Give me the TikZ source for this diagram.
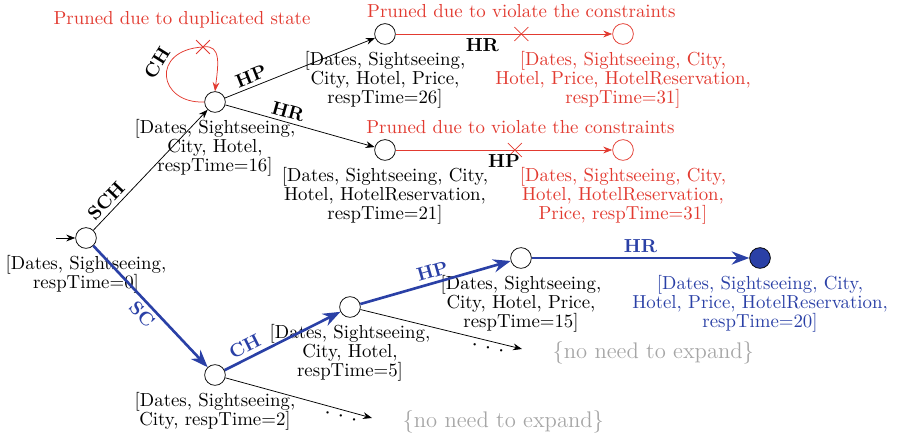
\documentclass[tikz,border=0pt]{standalone}
\usepackage{tikz}
\usetikzlibrary{
  positioning,
  arrows.meta,
  shapes.misc
}
\definecolor{prunered}{RGB}{226,58,48}
\definecolor{planblue}{RGB}{42,64,166}

\begin{document}
\begin{tikzpicture}[>=Stealth, x=0.531pt, y=0.531pt]
  \tikzset{
    state/.style={circle, draw, minimum size=11pt, inner sep=0pt},
    info/.style={align=center, inner sep=1pt, font=\fontsize{10}{10.1}\selectfont},
    act/.style={font=\bfseries, inner sep=2pt},
    plan/.style={draw=planblue, line width=1.4pt, ->},
    prune/.style={draw=prunered, ->},
    xmark/.style={cross out, draw=prunered, minimum size=7pt, inner sep=0pt},
    dots/.style={sloped, below, inner sep=1pt, font=\large},
    skipped/.style={text=black!35, font=\large},
  }
\useasboundingbox (0,0) rectangle (898,436);

% states of the search
\coordinate (in) at (56,198);
\node[state] (s0) at (86,198) {};
\node[state] (s1) at (215,334) {};
\node[state] (s2) at (215,61) {};
\node[state] (s3) at (385,402) {};
\node[state] (s4) at (385,286) {};
\node[state, draw=prunered] (s5) at (623,402) {};
\node[state, draw=prunered] (s6) at (623,286) {};
\node[state] (s7) at (350,129) {};
\node[state] (s8) at (521,178) {};
\node[state, fill=planblue] (s9) at (760,178) {};
\coordinate (d1) at (522,87);
\coordinate (d2) at (372,18);

\node[info, below=2.5pt of s0] (i0) {[Dates, Sightseeing,\\ respTime=0]};
\node[info, below=2.5pt of s1] (i1) {[Dates, Sightseeing,\\ City, Hotel,\\ respTime=16]};
\node[info, below=2.5pt of s2] (i2) {[Dates, Sightseeing,\\ City, respTime=2]};
\node[info, below=2.5pt of s3] (i3) {[Dates, Sightseeing,\\ City, Hotel, Price,\\ respTime=26]};
\node[info, below=2.5pt of s4] (i4) {[Dates, Sightseeing, City,\\ Hotel, HotelReservation,\\ respTime=21]};
\node[info, text=prunered, below=2.5pt of s5] (i5) {[Dates, Sightseeing, City,\\ Hotel, Price, HotelReservation,\\ respTime=31]};
\node[info, text=prunered, below=2.5pt of s6] (i6) {[Dates, Sightseeing, City,\\ Hotel, HotelReservation,\\ Price, respTime=31]};
\node[info, below=2.5pt of s7] (i7) {[Dates, Sightseeing,\\ City, Hotel,\\ respTime=5]};
\node[info, below=2.5pt of s8] (i8) {[Dates, Sightseeing,\\ City, Hotel, Price,\\ respTime=15]};
\node[info, text=planblue, below=2.5pt of s9] (i9) {[Dates, Sightseeing, City,\\ Hotel, Price, HotelReservation,\\ respTime=20]};

% explored actions
\draw[->] (in) -- (s0);
\draw[->] (s0) -- node[act, above, sloped, pos=0.18] {SCH} (s1);
\draw[->] (s1) -- node[act, above, sloped, pos=0.2] {HP} (s3);
\draw[->] (s1) -- node[act, above, sloped, pos=0.4] {HR} (s4);
\draw[->] (s7) -- node[dots, pos=0.8] {$\cdot$ $\cdot$ $\cdot$} (d1);
\draw[->] (s2) -- node[dots, pos=0.8] {$\cdot$ $\cdot$ $\cdot$} (d2);

% pruned branches
\node[xmark] (xl) at (203,389) {};
\draw[prune] (s1.west) .. controls (158,332) and (150,386) .. (xl.center)
  .. controls (222,392) and (218,370) .. (s1.north);
\node[act, rotate=58] (lch) at (157,373) {CH};
\draw[prune] (s3) -- node[xmark, pos=0.58] (x3) {} node[act, below, pos=0.4] {HR} (s5);
\draw[prune] (s4) -- node[xmark, pos=0.55] (x4) {} node[act, below, pos=0.5] {HP} (s6);

\node[info, text=prunered] (pl) at (182,416) {Pruned due to duplicated state};
\node[info, text=prunered, above=3.5pt of x3] (p3) {Pruned due to violate the constraints};
\node[info, text=prunered, above=3.5pt of x4, xshift=3pt] (p4) {Pruned due to violate the constraints};

% selected plan
\draw[plan] (s0) -- node[act, text=planblue, below, sloped, pos=0.5] {SC} (s2);
\draw[plan] (s2) -- node[act, text=planblue, above, sloped, pos=0.22] {CH} (s7);
\draw[plan] (s7) -- node[act, text=planblue, above, sloped, pos=0.5] {HP} (s8);
\draw[plan] (s8) -- node[act, text=planblue, above, pos=0.5] {HR} (s9);

\node[info, skipped, right=15pt of d1, yshift=-2pt] (n1) {\{no need to expand\}};
\node[info, skipped, right=15pt of d2, yshift=-2pt] (n2) {\{no need to expand\}};

\end{tikzpicture}
\end{document}
